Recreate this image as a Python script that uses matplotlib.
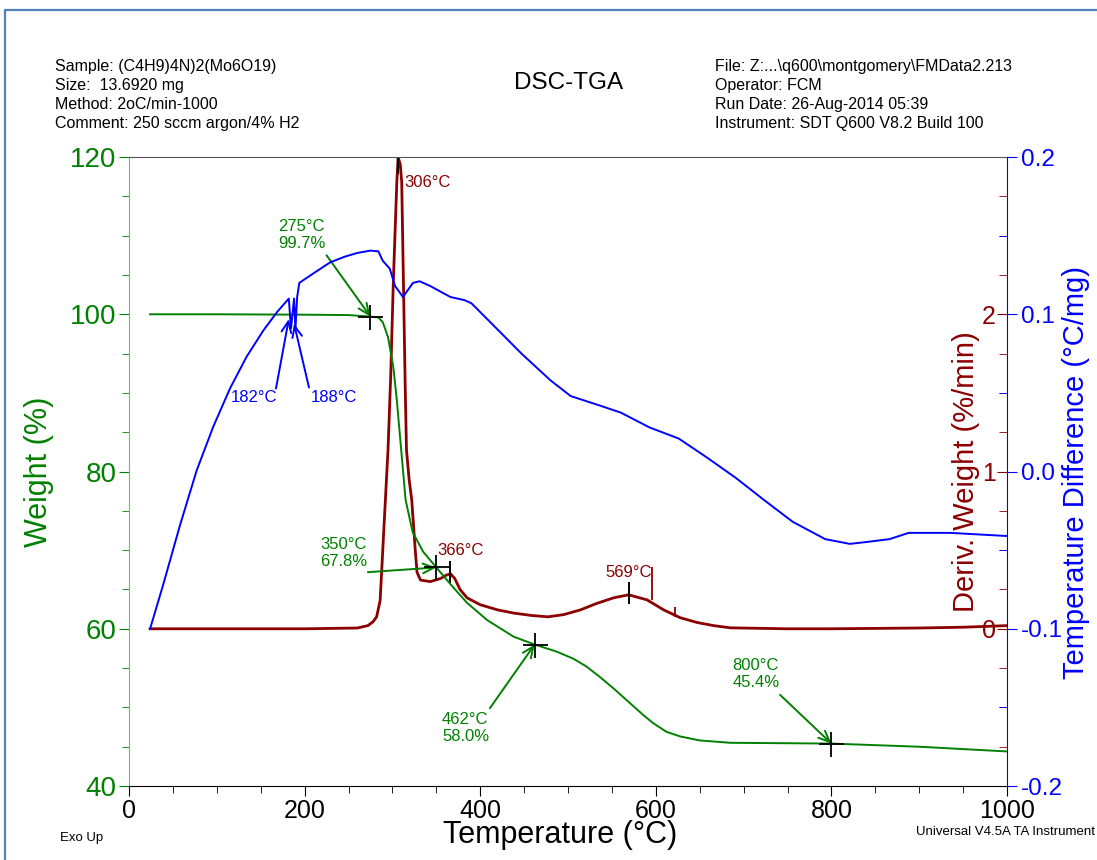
import numpy as np
import matplotlib.pyplot as plt
from matplotlib.ticker import MultipleLocator, FormatStrFormatter
from matplotlib.lines import Line2D

plt.rcParams['font.family'] = ['Liberation Sans', 'DejaVu Sans']
plt.rcParams['axes.unicode_minus'] = False

GREEN = '#008000'
RED = '#8B0000'
BLUE = '#0000FF'

# --------------------------
# Data
# --------------------------
# Weight (%) vs temperature
weight_T = [24, 100, 200, 250, 275, 284, 289, 295, 301, 305, 309, 315, 323, 335,
            350, 369, 385, 408, 438, 462, 487, 506, 521, 536, 552, 571, 586, 597,
            612, 628, 650, 685, 800, 900, 1000]
weight = [100.0, 100.0, 99.95, 99.9, 99.7, 99.6, 99.0, 97.1, 93.3, 89.1, 84.0, 76.4,
          72.3, 69.8, 67.8, 65.3, 63.3, 61.1, 59.0, 58.0, 57.1, 56.2, 55.2, 53.9,
          52.4, 50.5, 49.0, 48.0, 46.9, 46.3, 45.8, 45.5, 45.4, 45.0, 44.4]

# Deriv. weight (%/min)
deriv_T = [24, 100, 200, 260, 272, 278, 282, 286, 288, 290, 292, 295, 298, 301, 305,
           306.5, 309, 310.6, 314.5, 316, 319, 322, 326, 328, 332, 343, 355, 361, 366,
           371, 377, 385, 400, 420, 438, 458, 477, 495, 514, 532, 552, 569, 590, 609,
           628, 647, 666, 685, 750, 800, 900, 950, 1000]
deriv = [0.0, 0.0, 0.0, 0.005, 0.02, 0.045, 0.076, 0.18, 0.39, 0.61, 0.82, 1.14, 1.6,
         2.2, 2.84, 3.0, 2.95, 2.84, 1.56, 1.14, 0.95, 0.82, 0.50, 0.36, 0.31, 0.30,
         0.32, 0.34, 0.35, 0.32, 0.25, 0.197, 0.153, 0.12, 0.10, 0.085, 0.076, 0.09,
         0.12, 0.16, 0.197, 0.216, 0.184, 0.12, 0.07, 0.04, 0.02, 0.006, 0.0, 0.0,
         0.005, 0.01, 0.02]

# Temperature difference (°C/mg)
td_T = [24, 38.7, 58, 77, 96, 115, 134, 153, 169, 182, 184.5, 188, 189.5, 191.5,
        194, 210, 229, 245, 260, 275, 284, 289, 297, 303, 312, 323.5, 331, 343, 366,
        382, 390, 415, 447, 480, 503, 536, 560, 593, 626, 658, 691, 723, 756, 793,
        821, 837, 866, 888, 935, 1000]
td = [-0.100, -0.0724, -0.0343, 0.0006, 0.0286, 0.0528, 0.0731, 0.0897, 0.1017,
      0.110, 0.091, 0.110, 0.090, 0.111, 0.120, 0.126, 0.133, 0.1365, 0.139, 0.1405,
      0.140, 0.134, 0.129, 0.118, 0.111, 0.120, 0.121, 0.118, 0.111, 0.109, 0.107,
      0.093, 0.075, 0.058, 0.048, 0.042, 0.0375, 0.028, 0.021, 0.009, -0.004, -0.018,
      -0.032, -0.043, -0.046, -0.045, -0.043, -0.039, -0.039, -0.041]

# Analysis results
step_T = [275, 350, 462, 800]
step_W = [99.7, 67.8, 58.0, 45.4]
peak_T = [306, 366, 569]
peak_D = [2.96, 0.36, 0.23]
limit_T = [596, 622]
limit_lo = [0.184, 0.076]
limit_hi = [0.394, 0.14]
melt_T = [182, 188]
melt_D = [0.097, 0.094]

header_left = ["Sample: (C4H9)4N)2(Mo6O19)", "Size:  13.6920 mg",
               "Method: 2oC/min-1000", "Comment: 250 sccm argon/4% H2"]
header_right = ["File: Z:...\\q600\\montgomery\\FMData2.213", "Operator: FCM",
                "Run Date: 26-Aug-2014 05:39", "Instrument: SDT Q600 V8.2 Build 100"]

# --------------------------
# Figure / axes
# --------------------------
fig = plt.figure(figsize=(10.97, 8.6), dpi=100)
ax = fig.add_axes([0.1176, 0.0860, 0.8004, 0.7314])
ax2 = ax.twinx()
ax3 = ax.twinx()
ax2.set_zorder(1)
ax.set_zorder(2)
ax3.set_zorder(3)
ax.patch.set_visible(False)

ax.set_xlim(0, 1000)
ax.set_ylim(40, 120)
ax2.set_ylim(-1, 3)
ax3.set_ylim(-0.2, 0.2)

# spines
ax.spines['right'].set_visible(False)
ax.spines['left'].set_color('#66bb66')
ax.spines['top'].set_color('#555555')
for s in ax2.spines.values():
    s.set_visible(False)
for k, s in ax3.spines.items():
    s.set_visible(k == 'right')
ax3.spines['right'].set_color(BLUE)

# x ticks
ax.xaxis.set_major_locator(MultipleLocator(200))
ax.xaxis.set_minor_locator(MultipleLocator(50))
ax.tick_params(axis='x', which='major', direction='out', length=7, labelsize=18, pad=2)
ax.tick_params(axis='x', which='minor', direction='out', length=5)

# weight ticks
ax.yaxis.set_major_locator(MultipleLocator(20))
ax.yaxis.set_minor_locator(MultipleLocator(5))
ax.tick_params(axis='y', which='both', colors=GREEN, labelcolor=GREEN)
ax.tick_params(axis='y', which='major', length=7, labelsize=20, pad=2)
ax.tick_params(axis='y', which='minor', length=5)

# deriv ticks (inside, labels left of the spine)
ax2.set_yticks([0, 1, 2])
ax2.yaxis.set_minor_locator(MultipleLocator(0.25))
ax2.tick_params(axis='y', which='both', direction='in', colors=RED, labelcolor=RED)
ax2.tick_params(axis='y', which='major', length=7, labelsize=18, pad=-8)
ax2.tick_params(axis='y', which='minor', length=6)
for lbl in ax2.get_yticklabels():
    lbl.set_horizontalalignment('right')

# temperature difference ticks
ax3.yaxis.set_major_locator(MultipleLocator(0.1))
ax3.yaxis.set_minor_locator(MultipleLocator(0.05))
ax3.yaxis.set_major_formatter(FormatStrFormatter('%.1f'))
ax3.tick_params(axis='y', which='both', colors=BLUE, labelcolor=BLUE)
ax3.tick_params(axis='y', which='major', direction='out', length=7, labelsize=17.5, pad=3)
ax3.tick_params(axis='y', which='minor', direction='in', length=6)

# --------------------------
# Curves
# --------------------------
ax2.plot(deriv_T, deriv, color=RED, lw=2.0)
ax.plot(weight_T, weight, color=GREEN, lw=1.4)
ax3.plot(td_T, td, color=BLUE, lw=1.4)

# --------------------------
# Annotations
# --------------------------
arrow_g = dict(arrowstyle='->,head_length=0.8,head_width=0.35', color=GREEN, lw=1.4,
               shrinkA=0, shrinkB=0)
arrow_b = dict(arrowstyle='->,head_length=0.8,head_width=0.35', color=BLUE, lw=1.4,
               shrinkA=0, shrinkB=0)

# step labels: (text x, text y, arrow tail x, arrow tail y)
step_layout = [(170, 110.1, 225, 107.5),
               (217.5, 69.6, 272, 67.2),
               (356.5, 47.4, 411, 49.9),
               (687, 54.2, 741.5, 51.6)]
for T, W, (tx, ty, ax_, ay_) in zip(step_T, step_W, step_layout):
    ax.annotate('', xy=(T, W), xytext=(ax_, ay_), arrowprops=arrow_g)
    ax.text(tx, ty, f"{T}°C\n{W:.1f}%", color=GREEN, fontsize=12,
            ha='left', va='center', linespacing=1.15)
ax.plot(step_T, step_W, ls='none', marker='+', ms=18, mew=1.3, color='k', zorder=5)

# deriv peaks
ax2.plot(peak_T, peak_D, ls='none', marker='|', ms=16, mew=1.4, color='k')
ax2.vlines(limit_T, limit_lo, limit_hi, color=RED, lw=1.3)
peak_layout = [(314, 2.84), (351, 0.50), (543, 0.36)]
for T, (tx, ty) in zip(peak_T, peak_layout):
    ax2.text(tx, ty, f"{T}°C", color=RED, fontsize=12, ha='left', va='center')

# DSC events
melt_layout = [(168.6, 0.047, 167.4, 0.0528, 'right'),
               (207.3, 0.047, 205, 0.0534, 'left')]
for T, D, (tx, ty, ax_, ay_, ha) in zip(melt_T, melt_D, melt_layout):
    ax3.annotate('', xy=(T, D), xytext=(ax_, ay_), arrowprops=arrow_b)
    ax3.text(tx, ty, f"{T}°C", color=BLUE, fontsize=12, ha=ha, va='center')

# --------------------------
# Axis labels
# --------------------------
ax.set_xlabel("Temperature (°C)", fontsize=22)
ax.xaxis.set_label_coords(0.491, -0.078)
ax.xaxis.label.set_va('center')

ax.set_ylabel("Weight (%)", fontsize=22, color=GREEN)
ax.yaxis.set_label_coords(-0.103, 0.5)
ax.yaxis.label.set_va('center')

ax2.set_ylabel("Deriv. Weight (%/min)", fontsize=21, color=RED)
ax2.yaxis.set_label_coords(0.953, 0.5)
ax2.yaxis.label.set_va('center')

ax3.set_ylabel("Temperature Difference (°C/mg)", fontsize=21, color=BLUE)
ax3.yaxis.set_label_coords(1.078, 0.498)
ax3.yaxis.label.set_va('center')

# --------------------------
# Header / footer text
# --------------------------
W_PX, H_PX = 1097, 860
for i, line in enumerate(header_left):
    fig.text(55 / W_PX, 1 - (67 + 18.7 * i) / H_PX, line, fontsize=11.5, va='center')
for i, line in enumerate(header_right):
    fig.text(715 / W_PX, 1 - (67 + 18.7 * i) / H_PX, line, fontsize=11.5, va='center')
fig.text(569 / W_PX, 1 - 83 / H_PX, "DSC-TGA", fontsize=17.5, ha='center', va='center')
fig.text(60 / W_PX, 1 - 838 / H_PX, "Exo Up", fontsize=9.5, va='center')
fig.text(1095 / W_PX, 1 - 832 / H_PX, "Universal V4.5A TA Instrument", fontsize=9.5,
         ha='right', va='center')

# window frame
fig.add_artist(Line2D([5 / W_PX, 5 / W_PX, 1], [0, 1 - 10 / H_PX, 1 - 10 / H_PX],
                      transform=fig.transFigure, color='#4f81bd', lw=1.6))

fig.savefig("out.png", dpi=100)
